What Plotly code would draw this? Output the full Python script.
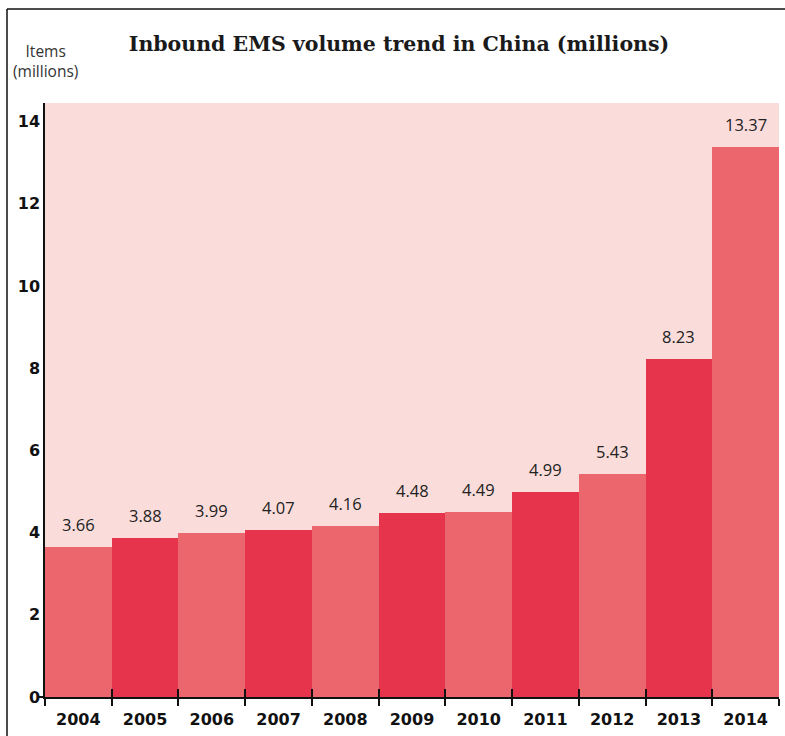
import plotly.graph_objects as go

years = ["2004", "2005", "2006", "2007", "2008", "2009", "2010", "2011", "2012", "2013", "2014"]
volumes = [3.66, 3.88, 3.99, 4.07, 4.16, 4.48, 4.49, 4.99, 5.43, 8.23, 13.37]
value_labels = ["3.66", "3.88", "3.99", "4.07", "4.16", "4.48", "4.49", "4.99", "5.43", "8.23", "13.37"]
y_ticks = [0, 2, 4, 6, 8, 10, 12, 14]

LIGHT = "#EC676D"
DARK = "#E6344D"
BG = "#FADDDA"
colors = [LIGHT if i % 2 == 0 else DARK for i in range(len(years))]

W, H = 785, 736
ML, MR, MT, MB = 45, 6, 103, 39

fig = go.Figure()
fig.add_trace(go.Bar(
    x=years, y=volumes, marker=dict(color=colors, line=dict(width=0)),
    hoverinfo="x+y", showlegend=False,
))
# helper trace for overlay axes (inside ticks / zero tick)
fig.add_trace(go.Scatter(
    x=years, y=volumes, xaxis="x2", yaxis="y2", mode="markers",
    marker=dict(opacity=0), hoverinfo="skip", showlegend=False,
))

for i, (v, lab) in enumerate(zip(volumes, value_labels)):
    fig.add_annotation(
        x=i, y=v, text=lab, showarrow=False, yanchor="bottom", yshift=9,
        font=dict(family="Open Sans", size=16.5, color="#222"),
    )

yrange = [0, 14.45]
fig.update_layout(
    width=W, height=H,
    margin=dict(l=ML, r=MR, t=MT, b=MB),
    paper_bgcolor="white",
    plot_bgcolor=BG,
    bargap=0,
    title=dict(
        text="<b>Inbound EMS volume trend in China (millions)</b>",
        x=(399) / W, xanchor="center", y=1 - 44 / H, yanchor="middle",
        font=dict(family="DejaVu Serif", size=20.5, color="#1a1a1a"),
    ),
    xaxis=dict(
        type="category", range=[-0.5, 10.5],
        showline=True, linecolor="#111", linewidth=1.5,
        ticks="outside", ticklen=7, tickwidth=1.5, tickcolor="#111",
        tickson="boundaries", showgrid=False, ticklabelstandoff=7,
        tickfont=dict(family="DejaVu Sans", size=16, color="#111", weight="bold"),
    ),
    xaxis2=dict(
        type="category", range=[-0.5, 10.5], overlaying="x", side="bottom",
        ticks="inside", ticklen=8, tickwidth=1.5, tickcolor="#111",
        tickson="boundaries", showticklabels=False, showgrid=False, showline=False,
        anchor="y",
    ),
    yaxis=dict(
        range=yrange, tickvals=y_ticks,
        showline=True, linecolor="#111", linewidth=1.5,
        ticks="", showgrid=False, zeroline=False,
        tickfont=dict(family="DejaVu Sans", size=16, color="#111", weight="bold"),
    ),
    yaxis2=dict(
        range=yrange, overlaying="y", side="left", tickvals=[0],
        ticks="outside", ticklen=5, tickwidth=1.5, tickcolor="#111",
        showticklabels=False, showgrid=False, showline=False, zeroline=False,
        anchor="x",
    ),
)

pw = W - ML - MR
ph = H - MT - MB
def px(xp):
    return (xp - ML) / pw
def py(yp):
    return (H - MB - yp) / ph

# frame lines (top and left)
fig.add_shape(type="line", xref="paper", yref="paper",
              x0=px(7), x1=px(W), y0=py(9), y1=py(9),
              line=dict(color="#111", width=1.5))
fig.add_shape(type="line", xref="paper", yref="paper",
              x0=px(7), x1=px(7), y0=py(9), y1=py(H),
              line=dict(color="#111", width=1.5))

fig.add_annotation(
    xref="paper", yref="paper", x=px(45), y=py(61), xanchor="center", yanchor="middle",
    text="Items<br>(millions)", showarrow=False, align="center",
    font=dict(family="Open Sans", size=15.5, color="#333"),
)

fig.write_html("out.html")
